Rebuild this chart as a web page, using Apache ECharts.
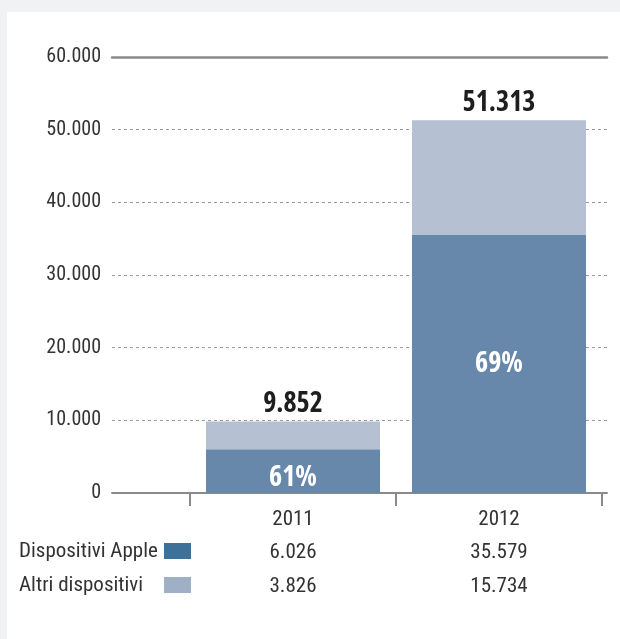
<!DOCTYPE html>
<html>
<head>
<meta charset="utf-8">
<script src="https://cdn.jsdelivr.net/npm/echarts@6/dist/echarts.min.js"></script>
<style>
html, body { margin: 0; padding: 0; background: #f1f2f4; }
#card { position: absolute; left: 7px; top: 12px; width: 613px; height: 627px; background: #fff; }
#main { position: absolute; left: 0; top: 0; width: 620px; height: 639px; }
</style>
</head>
<body>
<div id="card"></div>
<div id="main"></div>
<script>
// dati
var years = ['2011', '2012'];
var apple = [6026, 35579];   // Dispositivi Apple
var altri = [3826, 15734];   // Altri dispositivi
var rowNames = ['Dispositivi Apple', 'Altri dispositivi'];
var yMin = 0, yMax = 60000, yStep = 10000;

var FONT = '"Roboto Condensed", "DejaVu Sans Condensed", sans-serif';
var BOLD_FONT = '"Open Sans", "Roboto Condensed", sans-serif';
var BOLD = 'bold condensed';   // font-stretch nel font shorthand

function fmt(n) {
    return String(n).replace(/\B(?=(\d{3})+(?!\d))/g, '.');
}

var myChart = echarts.init(document.getElementById('main'));

var option = {
    animation: false,
    grid: [
        {left: 112, right: 13, top: 57, bottom: 146},   // griglia + linee
        {left: 190, right: 18, top: 57, bottom: 146}    // barre
    ],
    xAxis: [
        {   // linea di base
            gridIndex: 0, type: 'category', data: years, position: 'bottom',
            axisLine: {lineStyle: {color: '#8a8a8a', width: 2}},
            axisTick: {show: false}, axisLabel: {show: false}, splitLine: {show: false}
        },
        {   // linea in alto (60.000)
            gridIndex: 0, type: 'category', data: years, position: 'top',
            axisLine: {lineStyle: {color: '#8a8a8a', width: 2.5}},
            axisTick: {show: false}, axisLabel: {show: false}, splitLine: {show: false}
        },
        {   // anni
            gridIndex: 1, type: 'category', data: years, position: 'bottom',
            axisLine: {show: false},
            axisTick: {show: true, length: 13, lineStyle: {color: '#8a8a8a', width: 2}},
            axisLabel: {fontFamily: FONT, fontSize: 21, color: '#333', margin: 16}
        },
        {   // riga valori Apple
            gridIndex: 1, type: 'category', data: years, position: 'bottom',
            axisLine: {show: false}, axisTick: {show: false},
            axisLabel: {
                fontFamily: FONT, fontSize: 21, color: '#333', margin: 49,
                formatter: function (v, i) { return fmt(apple[i]); }
            }
        },
        {   // riga valori altri
            gridIndex: 1, type: 'category', data: years, position: 'bottom',
            axisLine: {show: false}, axisTick: {show: false},
            axisLabel: {
                fontFamily: FONT, fontSize: 21, color: '#333', margin: 83,
                formatter: function (v, i) { return fmt(altri[i]); }
            }
        }
    ],
    yAxis: [
        {
            gridIndex: 0, type: 'value', min: yMin, max: yMax, interval: yStep,
            axisLine: {show: false}, axisTick: {show: false},
            axisLabel: {
                fontFamily: FONT, fontSize: 20, color: '#333', margin: 11,
                formatter: function (v) { return fmt(v); }
            },
            splitLine: {lineStyle: {color: '#9a9a9a', width: 1, type: [3, 3]}}
        },
        {
            gridIndex: 1, type: 'value', min: yMin, max: yMax, interval: yStep, show: false,
            splitLine: {show: false}
        }
    ],
    series: [
        {
            name: rowNames[0], type: 'bar', stack: 'tot',
            xAxisIndex: 2, yAxisIndex: 1, barWidth: 174,
            itemStyle: {color: '#6788ab'},
            label: {
                show: true, color: '#fff', fontFamily: BOLD_FONT, fontWeight: BOLD, fontSize: 28,
                formatter: function (p) {
                    var i = p.dataIndex;
                    return Math.round(apple[i] / (apple[i] + altri[i]) * 100) + '%';
                }
            },
            data: apple.map(function (v, i) {
                return {value: v, label: {position: i === 0 ? 'insideBottom' : 'inside', distance: 1}};
            })
        },
        {
            name: rowNames[1], type: 'bar', stack: 'tot',
            xAxisIndex: 2, yAxisIndex: 1, barWidth: 174,
            itemStyle: {color: '#b5c1d3'},
            label: {
                show: true, position: 'top', distance: 3,
                color: '#1e1e1e', fontFamily: BOLD_FONT, fontWeight: BOLD, fontSize: 28,
                formatter: function (p) {
                    var i = p.dataIndex;
                    return fmt(apple[i] + altri[i]);
                }
            },
            data: altri
        }
    ],
    graphic: [
        {type: 'text', x: 19, y: 552, style: {text: rowNames[0], font: '21px ' + FONT, fill: '#333', verticalAlign: 'middle'}},
        {type: 'rect', shape: {x: 164, y: 543, width: 27, height: 16}, style: {fill: '#3d7199'}},
        {type: 'text', x: 19, y: 586, style: {text: rowNames[1], font: '21px ' + FONT, fill: '#333', verticalAlign: 'middle'}},
        {type: 'rect', shape: {x: 164, y: 577, width: 27, height: 16}, style: {fill: '#9eafc6'}}
    ]
};

myChart.setOption(option);
</script>
</body>
</html>
